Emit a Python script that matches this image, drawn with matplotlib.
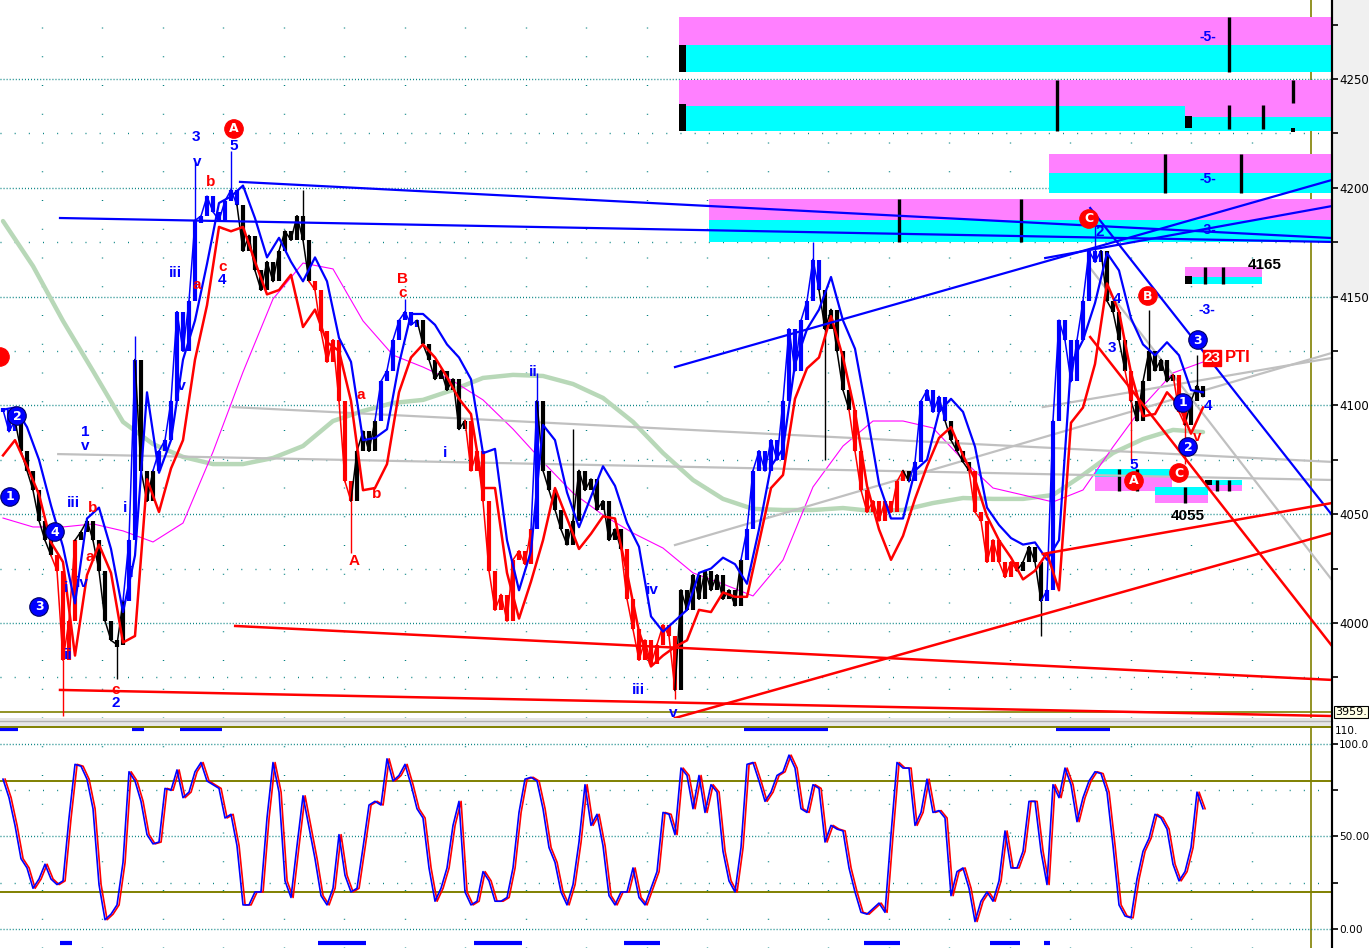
import numpy as np
import matplotlib
matplotlib.use("Agg")
import matplotlib.pyplot as plt
from matplotlib import font_manager
from matplotlib.patches import Rectangle
from matplotlib.lines import Line2D

plt.rcParams['font.family'] = ['DejaVu Sans']

W, H = 1369, 948

# closes, one per bar
close = [4098, 4088, 4093, 4079, 4070, 4061, 4047, 4038, 4031, 4024,
         3983, 4001, 4038, 4042, 4047, 4038, 4024, 4001, 3992, 3990,
         4010, 4038, 4121, 4070, 4056, 4070, 4079, 4084, 4102, 4143,
         4125, 4148, 4185, 4187, 4196, 4189, 4185, 4194, 4199, 4192,
         4171, 4178, 4162, 4153, 4166, 4157, 4171, 4180, 4176, 4187,
         4176, 4157, 4153, 4134, 4120, 4130, 4102, 4065, 4056, 4079,
         4088, 4079, 4093, 4111, 4116, 4130, 4139, 4143, 4137, 4139,
         4128, 4121, 4112, 4116, 4107, 4112, 4089, 4093, 4070, 4079,
         4056, 4024, 4006, 4013, 4001, 4029, 4033, 4027, 4043, 4102,
         4070, 4061, 4052, 4043, 4036, 4047, 4070, 4061, 4066, 4052,
         4056, 4038, 4043, 4034, 4011, 3997, 3983, 3992, 3981, 3990,
         3999, 3994, 3969, 4015, 4006, 4022, 4011, 4024, 4015, 4022,
         4011, 4015, 4008, 4029, 4043, 4070, 4079, 4070, 4084, 4075,
         4102, 4135, 4116, 4139, 4148, 4167, 4153, 4135, 4144, 4125,
         4107, 4098, 4079, 4061, 4051, 4056, 4047, 4056, 4051, 4065,
         4070, 4065, 4074, 4102, 4107, 4097, 4104, 4093, 4084, 4079,
         4074, 4070, 4051, 4047, 4028, 4038, 4028, 4021, 4028, 4024,
         4028, 4035, 4028, 4010, 4015, 4093, 4139, 4130, 4111, 4130,
         4148, 4171, 4166, 4171, 4148, 4143, 4130, 4116, 4102, 4093,
         4111, 4125, 4116, 4121, 4111, 4114, 4097, 4091, 4102, 4109,
         4104]

# long wicks
spike_bar = [10, 19, 22, 32, 38, 50, 58, 67, 89, 95, 112, 135, 137, 173, 182, 188, 191, 197, 199]
spike_val = [3957, 3974, 4132, 4212, 4217, 4199, 4032, 4149, 4115, 4089, 3965, 4175, 4075, 3994,
             4183, 4075, 4144, 4073, 4123]

# upper / lower bands, every 2nd bar
band_hi = [4098, 4099, 4090, 4075, 4054, 4035, 4009, 4048, 4053, 4034,
           4005, 4031, 4106, 4069, 4084, 4121, 4139, 4165, 4193, 4196,
           4201, 4186, 4168, 4177, 4166, 4157, 4168, 4157, 4131, 4120,
           4084, 4085, 4089, 4119, 4142, 4142, 4137, 4128, 4122, 4112,
           4078, 4080, 4038, 4015, 4033, 4091, 4084, 4060, 4044, 4058,
           4072, 4063, 4046, 4035, 4003, 3996, 4001, 4006, 4023, 4025,
           4030, 4027, 4018, 4043, 4072, 4080, 4119, 4135, 4144, 4159,
           4139, 4126, 4096, 4064, 4048, 4048, 4070, 4075, 4097, 4103,
           4097, 4081, 4053, 4045, 4039, 4036, 4037, 4029, 4038, 4119,
           4130, 4147, 4170, 4162, 4140, 4128, 4123, 4129, 4123, 4107,
           4106]
band_lo = [4077, 4084, 4072, 4059, 4037, 4028, 3985, 4022, 4036, 4023,
           3991, 3994, 4066, 4051, 4071, 4084, 4121, 4146, 4182, 4180,
           4182, 4166, 4151, 4153, 4160, 4136, 4144, 4129, 4125, 4102,
           4061, 4062, 4073, 4106, 4122, 4128, 4122, 4113, 4103, 4096,
           4062, 4062, 4023, 4002, 4019, 4038, 4062, 4048, 4034, 4041,
           4049, 4048, 4023, 3996, 3980, 3985, 3989, 3992, 4006, 4005,
           4014, 4012, 4012, 4037, 4062, 4068, 4103, 4117, 4122, 4141,
           4122, 4097, 4063, 4043, 4029, 4040, 4057, 4072, 4085, 4090,
           4077, 4066, 4049, 4038, 4030, 4020, 4024, 4032, 4015, 4092,
           4099, 4119, 4156, 4143, 4115, 4095, 4096, 4106, 4100, 4087,
           4099]

# averages, every 5th bar
ma_long = [4184.7, 4164.0, 4138.8, 4115.8, 4092.4, 4082.2, 4076.3, 4073.0, 4073.0, 4075.8,
           4081.3, 4092.8, 4097.4, 4101.1, 4102.5, 4107.1, 4112.6, 4114.0, 4113.5, 4109.8,
           4103.4, 4092.4, 4078.1, 4065.7, 4057.0, 4052.4, 4051.9, 4051.9, 4052.8, 4051.4,
           4051.9, 4055.1, 4057.4, 4057.0, 4057.0, 4058.8, 4068.0, 4078.1, 4084.5, 4088.7,
           4087.7]
ma_mid = [4048.2, 4044.1, 4044.1, 4045.5, 4042.3, 4037.2, 4045.9, 4078.6, 4115.3, 4148.9,
          4165.4, 4162.7, 4138.8, 4123.1, 4117.6, 4111.2, 4102.5, 4089.1, 4074.0, 4059.7,
          4049.6, 4041.3, 4034.4, 4023.0, 4017.9, 4012.4, 4028.9, 4062.5, 4081.3, 4092.8,
          4092.8, 4089.6, 4074.9, 4062.0, 4058.8, 4055.6, 4061.1, 4080.9, 4099.7, 4114.9,
          4119.9]

# oscillator, one per bar
osc = [81, 71, 56, 38, 33, 22, 27, 35, 27, 24,
       26, 60, 89, 88, 81, 65, 24, 5, 8, 13,
       36, 85, 80, 69, 51, 46, 47, 76, 75, 86,
       71, 74, 85, 90, 80, 78, 76, 60, 62, 45,
       13, 13, 20, 20, 60, 90, 74, 26, 17, 45,
       72, 55, 38, 18, 13, 22, 51, 29, 20, 22,
       44, 67, 69, 67, 92, 80, 83, 89, 78, 65,
       60, 33, 15, 22, 33, 56, 69, 20, 13, 15,
       31, 26, 15, 15, 17, 33, 63, 81, 82, 80,
       65, 44, 36, 20, 13, 24, 47, 78, 56, 62,
       45, 18, 13, 20, 20, 33, 17, 13, 22, 31,
       63, 62, 51, 87, 83, 65, 83, 63, 78, 74,
       42, 26, 20, 44, 89, 90, 80, 69, 74, 83,
       85, 94, 87, 65, 63, 78, 76, 47, 56, 54,
       53, 33, 20, 9, 8, 11, 14, 9, 51, 90,
       87, 87, 56, 63, 81, 63, 64, 60, 18, 31,
       33, 22, 4, 15, 20, 15, 26, 53, 33, 33,
       42, 69, 69, 42, 24, 78, 71, 87, 78, 58,
       71, 80, 85, 84, 74, 45, 13, 7, 6, 27,
       42, 49, 62, 60, 54, 35, 26, 31, 44, 74,
       65]

# signal bars (bar ranges)
sig_top = [(0, 2), (22, 23), (30, 36), (124, 137), (176, 184)]
sig_bot = [(10, 11), (53, 60), (79, 86), (104, 109), (144, 149), (165, 169), (174, 174)]

# trend lines ((bar, price), (bar, price))
trend_blue = [((9.5, 4186.1), (221.5, 4175.1)), ((39.5, 4202.7), (221.5, 4176.9)),
              ((112, 4117.6), (221.5, 4203.6)), ((173.7, 4167.7), (221.5, 4191.6)),
              ((181.2, 4190.7), (221.5, 4049.6))]
trend_gray = [((9.2, 4077.6), (221.5, 4065.7)), ((38.3, 4099.2), (221.5, 4074.0)),
              ((112, 4035.8), (221.5, 4124.1)), ((173.3, 4099.2), (221.5, 4121.8)),
              ((181.2, 4163.1), (221.5, 4019.7))]
trend_red = [((9.5, 3969.2), (221.5, 3957.2)), ((38.7, 3998.6), (221.5, 3973.8)),
             ((112, 3956.3), (221.5, 4041.3)), ((173.3, 4031.7), (221.5, 4055.1)),
             ((181.2, 4131.4), (221.5, 3989.4))]

# target zones: x0, x1, top, mid, bottom, colour of upper half
zones = [(112.7, 221.5, 4278.5, 4265.6, 4253.2, 'm'),
         (112.7, 197.0, 4249.5, 4237.6, 4226.1, 'm'),
         (197.0, 221.5, 4249.5, 4232.5, 4226.1, 'm'),
         (174.3, 221.5, 4215.5, 4206.8, 4197.6, 'm'),
         (117.7, 221.5, 4194.8, 4185.2, 4175.1, 'm'),
         (197.0, 209.8, 4163.6, 4159.0, 4155.8, 'm'),
         (182.0, 194.8, 4070.7, 4067.1, 4060.6, 'c'),
         (200.3, 206.5, 4065.7, 4063.4, 4060.6, 'c'),
         (192.0, 200.8, 4062.5, 4058.8, 4055.1, 'c')]
zone_marks = [(204.3, 4278.5, 4253.2), (175.7, 4249.5, 4226.1), (204.3, 4238, 4227),
              (210.0, 4238, 4227), (215.0, 4249.5, 4239), (193.7, 4215.5, 4197.6),
              (206.3, 4215.5, 4197.6), (149.3, 4194.8, 4175.1), (169.7, 4194.8, 4175.1),
              (200.3, 4163.6, 4155.8), (203.3, 4163.6, 4155.8), (186.0, 4070.7, 4060.6),
              (189.0, 4070.7, 4060.6), (197.0, 4062.5, 4055.1), (202.3, 4065.7, 4060.6),
              (204.3, 4065.7, 4060.6)]
zone_blocks = [(112.7, 113.9, 4253.2, 4265.6), (112.7, 113.9, 4226.1, 4238.5),
               (197.0, 198.2, 4227.5, 4233.0), (197.0, 198.2, 4155.8, 4159.5),
               (214.6, 215.4, 4225.5, 4227.5), (200.3, 201.5, 4063.4, 4065.7)]

bar_colors = [(0, 2, '#0000ff'), (9, 12, '#ff0000'), (21, 22, '#0000ff'), (26, 39, '#0000ff'),
              (52, 58, '#ff0000'), (63, 69, '#0000ff'), (78, 88, '#ff0000'), (89, 89, '#0000ff'),
              (104, 112, '#ff0000'), (124, 136, '#0000ff'), (142, 150, '#ff0000'),
              (152, 157, '#0000ff'), (162, 169, '#ff0000'), (174, 183, '#0000ff'),
              (188, 188, '#ff0000'), (196, 197, '#ff0000')]

BLUE, RED, OLIVE, TEAL = '#0000ff', '#ff0000', '#808000', '#008080'
MAG, CYAN = '#ff80ff', '#00ffff'

# narrow font for the price scale if present
try:
    font_manager.findfont('Liberation Sans Narrow', fallback_to_default=False)
    AXFONT, AXSIZE, LOWSIZE = 'Liberation Sans Narrow', 11, 10
except Exception:
    AXFONT, AXSIZE, LOWSIZE = 'DejaVu Sans Condensed', 8.5, 7.6

fig = plt.figure(figsize=(W / 100, H / 100), dpi=100)
fig.patch.set_facecolor('white')
fig.patches.append(Rectangle((1333 / W, 1 - 300 / H), 36 / W, 300 / H,
                             transform=fig.transFigure, fc='#f0f0f0', ec='none', zorder=-5))

ax = fig.add_axes([0, 1 - 718 / H, 1332 / W, 718 / H])
ax2 = fig.add_axes([0, 0, 1332 / W, 221 / H])
for a, fs in ((ax, AXSIZE), (ax2, LOWSIZE)):
    a.set_facecolor('white')
    a.patch.set_alpha(0)
    for s in ('left', 'top', 'bottom'):
        a.spines[s].set_visible(False)
    a.spines['right'].set_linewidth(1.5)
    a.yaxis.tick_right()
    a.tick_params(axis='x', bottom=False, labelbottom=False)
    a.tick_params(axis='y', which='both', direction='out', length=4, width=1.2, pad=1,
                  labelsize=fs)
    a.set_xlim(-0.5, 221.5)

ax.set_ylim(3956.3, 4286.3)
ax2.set_ylim(-10.3, 109.2)

# grid
vgrid = 6.5 + 10.083 * np.arange(21)
for a in (ax, ax2):
    for gx in vgrid:
        a.axvline(gx, color=TEAL, lw=1, ls=(0, (0.7, 20)), zorder=1)
    a.axvline(218, color=OLIVE, lw=1.2, zorder=1)
for lv in [4250, 4200, 4150, 4100, 4050, 4000]:
    ax.axhline(lv, color=TEAL, lw=1, ls=(0, (0.7, 1.5)), zorder=1)
for lv in [4225, 4175, 4125, 4075, 4025, 3975]:
    ax.axhline(lv, color=TEAL, lw=1, ls=(0, (0.7, 9.5)), zorder=1)
for lv in [100, 50, 0]:
    ax2.axhline(lv, color=TEAL, lw=1, ls=(0, (0.7, 1.5)), zorder=1)
for lv in [75, 25]:
    ax2.axhline(lv, color=TEAL, lw=1, ls=(0, (0.7, 9.5)), zorder=1)
ax.axhline(3959.1, color=OLIVE, lw=1.2, zorder=2)
ax2.axhline(80, color=OLIVE, lw=1.4, zorder=2)
ax2.axhline(20, color=OLIVE, lw=1.4, zorder=2)

# zones
for x0, x1, top, mid, bot, up in zones:
    c_up, c_dn = (MAG, CYAN) if up == 'm' else (CYAN, MAG)
    ax.add_patch(Rectangle((x0, mid), x1 - x0, top - mid, fc=c_up, ec='none', zorder=2))
    ax.add_patch(Rectangle((x0, bot), x1 - x0, mid - bot, fc=c_dn, ec='none', zorder=2))
for bx, t, b in zone_marks:
    ax.vlines(bx, b, t, color='black', lw=2.4, zorder=3)
for x0, x1, b, t in zone_blocks:
    ax.add_patch(Rectangle((x0, b), x1 - x0, t - b, fc='black', ec='none', zorder=3))

# averages
xm = np.arange(len(ma_long)) * 5
ax.plot(xm, ma_long, color='#b8d8b8', lw=3.2, zorder=3, solid_capstyle='round')
ax.plot(np.arange(len(ma_mid)) * 5, ma_mid, color='#ff00ff', lw=0.8, zorder=4)

# trend lines
for (p0, p1) in trend_gray:
    ax.plot([p0[0], p1[0]], [p0[1], p1[1]], color='#c0c0c0', lw=1.6, zorder=4)

# price bars
xb = np.arange(len(close))
cols = ['black'] * len(close)
for s, e, c in bar_colors:
    for i in range(s, e + 1):
        cols[i] = c
prev = [close[0]] + close[:-1]
lo = np.minimum(prev, close)
hi = np.maximum(prev, close)
hi = np.where(hi - lo < 1.5, hi + 1.0, hi)
lo = np.where(hi - lo < 2.5, lo - 1.0, lo)
ax.vlines(xb, lo, hi, colors=cols, lw=3.0, zorder=5)
for i in range(1, len(close)):
    ax.plot([i - 1, i], [close[i - 1], close[i]], color=cols[i], lw=1.1, zorder=5)
for bi, v in zip(spike_bar, spike_val):
    ax.vlines(bi, min(v, close[bi]), max(v, close[bi]), color=cols[bi], lw=1.0, zorder=5)

# bands
xh = np.arange(len(band_hi)) * 2
ax.plot(xh, band_hi, color=BLUE, lw=1.6, zorder=6)
ax.plot(np.arange(len(band_lo)) * 2, band_lo, color=RED, lw=1.8, zorder=6)

for (p0, p1) in trend_blue:
    ax.plot([p0[0], p1[0]], [p0[1], p1[1]], color=BLUE, lw=1.6, zorder=7)
for (p0, p1) in trend_red:
    ax.plot([p0[0], p1[0]], [p0[1], p1[1]], color=RED, lw=1.8, zorder=7)

ax.set_yticks([4000, 4050, 4100, 4150, 4200, 4250])
ax.set_yticks([3975, 4025, 4075, 4125, 4175, 4225, 4275], minor=True)
ax.set_yticklabels(['4000', '4050', '4100', '4150', '4200', '4250'])

# oscillator
xo = np.arange(len(osc))
ax2.plot(xo + 0.35, osc, color=RED, lw=1.2, zorder=5)
ax2.plot(xo, osc, color=BLUE, lw=1.2, zorder=6)
for s, e in sig_top:
    ax2.plot([s - 0.5, e + 0.5], [108.2, 108.2], color=BLUE, lw=3, solid_capstyle='butt', zorder=6)
for s, e in sig_bot:
    ax2.plot([s - 0.5, e + 0.5], [-7.6, -7.6], color=BLUE, lw=3, solid_capstyle='butt', zorder=6)
ax2.set_yticks([0, 50, 100])
ax2.set_yticks([25, 75], minor=True)
ax2.set_yticklabels(['0.00', '50.00', '100.0'])

for a in (ax, ax2):
    for lbl in a.get_yticklabels():
        lbl.set_family([AXFONT, 'DejaVu Sans'])

# separator between panels
fig.patches.append(Rectangle((0, 1 - 726 / H), 1332 / W, 8 / H, transform=fig.transFigure,
                             fc='#e6e6e6', ec='none', zorder=1))
fig.lines.append(Line2D([0, 1332 / W], [1 - 721 / H] * 2, transform=fig.transFigure,
                        color='#b0b0b0', lw=1))
fig.lines.append(Line2D([0, 1332 / W], [1 - 726.5 / H] * 2, transform=fig.transFigure,
                        color=OLIVE, lw=1.4))
fig.lines.append(Line2D([1332 / W] * 2, [0, 1], transform=fig.transFigure, color='black', lw=1.5))


def put(x, y, s, color, size=11, **kw):
    fig.text(x / W, 1 - y / H, s, color=color, fontsize=size, fontweight='bold',
             ha='center', va='center', family=['Liberation Sans', 'DejaVu Sans'], **kw)


def circ(x, y, s, color):
    fig.text(x / W, 1 - y / H, s, color='white', fontsize=9, fontweight='bold',
             ha='center', va='center', family='DejaVu Sans', zorder=10,
             bbox=dict(boxstyle='circle,pad=0.22', fc=color, ec='#000060' if color == BLUE else RED,
                       lw=0.8))


blue_lbl = [("3", 196, 137), ("v", 197, 162), ("5", 234, 146), ("iii", 175, 273), ("4", 222, 280),
            ("iv", 180, 386), ("1", 85, 432), ("v", 85, 446), ("iii", 73, 503), ("i", 66, 588),
            ("iv", 82, 583), ("ii", 68, 655), ("i", 125, 508), ("ii", 130, 573), ("2", 116, 703),
            ("i", 445, 453), ("ii", 533, 372), ("iv", 652, 590), ("iii", 638, 690), ("v", 673, 713),
            ("2", 1100, 232), ("4", 1117, 299), ("3", 1112, 348), ("5", 1134, 465),
            ("-3-", 1207, 310), ("-5-", 1208, 37), ("-5-", 1208, 179), ("-3-", 1208, 230),
            ("4", 1208, 406)]
for s, x, y in blue_lbl:
    put(x, y, s, BLUE, size=10 if s.startswith('-') else 11)
red_lbl = [("b", 211, 182), ("a", 197, 285), ("c", 223, 267), ("B", 403, 279), ("c", 403, 293),
           ("a", 361, 395), ("b", 377, 494), ("A", 354, 561), ("b", 93, 508), ("a", 90, 557),
           ("c", 116, 690), ("v", 1197, 437)]
for s, x, y in red_lbl:
    put(x, y, s, RED)
for s, x, y in [("A", 234, 129), ("C", 1089, 219), ("B", 1148, 296), ("A", 1134, 481),
                ("C", 1179, 473), ("", 0, 357)]:
    circ(x, y, s if s else " ", RED)
for s, x, y in [("2", 17, 416), ("1", 10, 497), ("4", 55, 532), ("3", 39, 607), ("3", 1198, 340),
                ("1", 1183, 403), ("2", 1188, 447)]:
    circ(x, y, s, BLUE)
put(1265, 265, "4165", 'black', size=11)
put(1188, 516, "4055", 'black', size=11)
put(1212, 358, "23", 'white', size=11, bbox=dict(boxstyle='square,pad=0.05', fc=RED, ec=RED))
put(1238, 358, "PTI", RED, size=12)

fig.text(1335 / W, 1 - 712 / H, "3959.", ha='left', va='center', fontsize=AXSIZE - 0.5,
         family=[AXFONT, 'DejaVu Sans'],
         bbox=dict(boxstyle='square,pad=0.12', fc='#ffffe6', ec='black', lw=0.8))
fig.text(1335 / W, 1 - 731 / H, "110.", ha='left', va='center', fontsize=LOWSIZE,
         family=[AXFONT, 'DejaVu Sans'], zorder=0)

fig.savefig("out.png", dpi=100, facecolor='white')
